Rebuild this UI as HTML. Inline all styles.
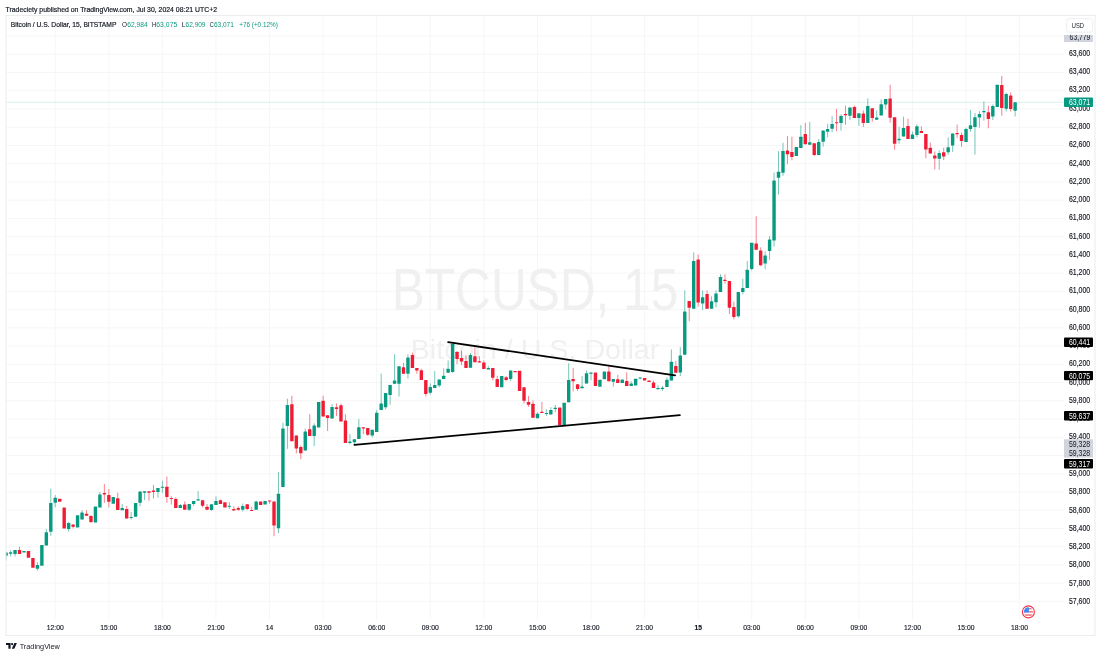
<!DOCTYPE html>
<html><head><meta charset="utf-8"><style>
html,body{margin:0;padding:0;background:#fff;}
body{width:1101px;height:656px;overflow:hidden;}
svg{display:block;font-family:"Liberation Sans",sans-serif;will-change:transform;}
.t text,text.t{stroke-width:0.18px;}
</style></head><body>
<svg width="1101" height="656" viewBox="0 0 1101 656">
<g stroke="#f6f6f7" stroke-width="1"><line x1="55.25" y1="15.5" x2="55.25" y2="619.5"/><line x1="108.83" y1="15.5" x2="108.83" y2="619.5"/><line x1="162.40" y1="15.5" x2="162.40" y2="619.5"/><line x1="215.98" y1="15.5" x2="215.98" y2="619.5"/><line x1="269.55" y1="15.5" x2="269.55" y2="619.5"/><line x1="323.12" y1="15.5" x2="323.12" y2="619.5"/><line x1="376.70" y1="15.5" x2="376.70" y2="619.5"/><line x1="430.28" y1="15.5" x2="430.28" y2="619.5"/><line x1="483.85" y1="15.5" x2="483.85" y2="619.5"/><line x1="537.42" y1="15.5" x2="537.42" y2="619.5"/><line x1="591.00" y1="15.5" x2="591.00" y2="619.5"/><line x1="644.58" y1="15.5" x2="644.58" y2="619.5"/><line x1="698.15" y1="15.5" x2="698.15" y2="619.5"/><line x1="751.73" y1="15.5" x2="751.73" y2="619.5"/><line x1="805.30" y1="15.5" x2="805.30" y2="619.5"/><line x1="858.88" y1="15.5" x2="858.88" y2="619.5"/><line x1="912.45" y1="15.5" x2="912.45" y2="619.5"/><line x1="966.03" y1="15.5" x2="966.03" y2="619.5"/><line x1="1019.60" y1="15.5" x2="1019.60" y2="619.5"/><line x1="6" y1="36.06" x2="1064" y2="36.06"/><line x1="6" y1="54.30" x2="1064" y2="54.30"/><line x1="6" y1="72.54" x2="1064" y2="72.54"/><line x1="6" y1="90.77" x2="1064" y2="90.77"/><line x1="6" y1="109.01" x2="1064" y2="109.01"/><line x1="6" y1="127.25" x2="1064" y2="127.25"/><line x1="6" y1="145.48" x2="1064" y2="145.48"/><line x1="6" y1="163.72" x2="1064" y2="163.72"/><line x1="6" y1="181.96" x2="1064" y2="181.96"/><line x1="6" y1="200.19" x2="1064" y2="200.19"/><line x1="6" y1="218.43" x2="1064" y2="218.43"/><line x1="6" y1="236.67" x2="1064" y2="236.67"/><line x1="6" y1="254.90" x2="1064" y2="254.90"/><line x1="6" y1="273.14" x2="1064" y2="273.14"/><line x1="6" y1="291.38" x2="1064" y2="291.38"/><line x1="6" y1="309.61" x2="1064" y2="309.61"/><line x1="6" y1="327.85" x2="1064" y2="327.85"/><line x1="6" y1="346.09" x2="1064" y2="346.09"/><line x1="6" y1="364.32" x2="1064" y2="364.32"/><line x1="6" y1="382.56" x2="1064" y2="382.56"/><line x1="6" y1="400.80" x2="1064" y2="400.80"/><line x1="6" y1="419.03" x2="1064" y2="419.03"/><line x1="6" y1="437.27" x2="1064" y2="437.27"/><line x1="6" y1="455.51" x2="1064" y2="455.51"/><line x1="6" y1="473.74" x2="1064" y2="473.74"/><line x1="6" y1="491.98" x2="1064" y2="491.98"/><line x1="6" y1="510.22" x2="1064" y2="510.22"/><line x1="6" y1="528.45" x2="1064" y2="528.45"/><line x1="6" y1="546.69" x2="1064" y2="546.69"/><line x1="6" y1="564.93" x2="1064" y2="564.93"/><line x1="6" y1="583.16" x2="1064" y2="583.16"/><line x1="6" y1="601.40" x2="1064" y2="601.40"/></g>
<text x="535" y="310.3" font-size="58.5" fill="#f0f0f1" text-anchor="middle" textLength="286.5" lengthAdjust="spacingAndGlyphs">BTCUSD, 15</text>
<text x="535" y="359" font-size="27.5" fill="#f0f0f1" text-anchor="middle" textLength="248.5" lengthAdjust="spacingAndGlyphs">Bitcoin / U.S. Dollar</text>
<clipPath id="plot"><rect x="5.8" y="16" width="1058.2" height="603.5"/></clipPath><g clip-path="url(#plot)">
<g fill="#089981" fill-opacity="0.55"><rect x="5.64" y="551.60" width="1.0" height="8.90"/><rect x="10.10" y="550.20" width="1.0" height="6.20"/><rect x="14.57" y="550.00" width="1.0" height="6.40"/><rect x="36.89" y="562.20" width="1.0" height="8.30"/><rect x="45.82" y="529.00" width="1.0" height="16.40"/><rect x="50.29" y="488.70" width="1.0" height="47.10"/><rect x="54.75" y="495.10" width="1.0" height="12.20"/><rect x="68.14" y="522.00" width="1.0" height="9.70"/><rect x="81.54" y="510.20" width="1.0" height="9.30"/><rect x="99.40" y="491.90" width="1.0" height="15.70"/><rect x="121.72" y="504.00" width="1.0" height="6.20"/><rect x="130.65" y="512.00" width="1.0" height="7.60"/><rect x="139.58" y="491.40" width="1.0" height="14.80"/><rect x="144.04" y="491.20" width="1.0" height="8.90"/><rect x="157.44" y="488.10" width="1.0" height="9.60"/><rect x="161.90" y="480.70" width="1.0" height="12.20"/><rect x="179.76" y="504.00" width="1.0" height="3.90"/><rect x="188.69" y="504.00" width="1.0" height="7.00"/><rect x="193.15" y="501.10" width="1.0" height="4.80"/><rect x="197.62" y="491.20" width="1.0" height="9.40"/><rect x="211.01" y="504.30" width="1.0" height="6.50"/><rect x="215.48" y="496.30" width="1.0" height="8.70"/><rect x="228.87" y="502.10" width="1.0" height="6.90"/><rect x="242.26" y="503.50" width="1.0" height="8.00"/><rect x="255.66" y="500.70" width="1.0" height="9.00"/><rect x="277.98" y="471.90" width="1.0" height="61.10"/><rect x="282.44" y="422.70" width="1.0" height="64.40"/><rect x="286.91" y="398.70" width="1.0" height="50.10"/><rect x="304.77" y="428.60" width="1.0" height="22.00"/><rect x="313.70" y="423.40" width="1.0" height="22.60"/><rect x="331.56" y="404.20" width="1.0" height="14.40"/><rect x="349.41" y="434.10" width="1.0" height="10.30"/><rect x="353.88" y="439.30" width="1.0" height="5.10"/><rect x="358.34" y="419.00" width="1.0" height="19.90"/><rect x="371.74" y="429.70" width="1.0" height="7.80"/><rect x="376.20" y="410.10" width="1.0" height="21.90"/><rect x="380.67" y="373.70" width="1.0" height="36.40"/><rect x="385.13" y="392.90" width="1.0" height="16.50"/><rect x="389.59" y="385.00" width="1.0" height="19.60"/><rect x="394.06" y="354.20" width="1.0" height="29.50"/><rect x="398.52" y="366.30" width="1.0" height="30.30"/><rect x="407.45" y="354.30" width="1.0" height="24.30"/><rect x="429.78" y="383.40" width="1.0" height="11.20"/><rect x="434.24" y="370.90" width="1.0" height="17.00"/><rect x="438.71" y="379.40" width="1.0" height="7.90"/><rect x="443.17" y="368.40" width="1.0" height="10.60"/><rect x="447.63" y="360.50" width="1.0" height="12.20"/><rect x="452.10" y="343.80" width="1.0" height="28.90"/><rect x="469.96" y="353.00" width="1.0" height="14.70"/><rect x="487.82" y="365.80" width="1.0" height="3.70"/><rect x="510.14" y="370.50" width="1.0" height="10.70"/><rect x="536.93" y="412.30" width="1.0" height="5.90"/><rect x="545.86" y="409.30" width="1.0" height="6.70"/><rect x="550.32" y="407.20" width="1.0" height="7.30"/><rect x="554.79" y="405.00" width="1.0" height="7.30"/><rect x="568.18" y="363.30" width="1.0" height="39.00"/><rect x="581.57" y="376.00" width="1.0" height="12.20"/><rect x="586.04" y="370.40" width="1.0" height="13.20"/><rect x="590.50" y="372.40" width="1.0" height="7.80"/><rect x="612.82" y="379.00" width="1.0" height="7.70"/><rect x="630.68" y="381.30" width="1.0" height="4.60"/><rect x="639.61" y="377.50" width="1.0" height="1.90"/><rect x="657.47" y="385.20" width="1.0" height="4.10"/><rect x="661.94" y="385.90" width="1.0" height="4.80"/><rect x="666.40" y="377.30" width="1.0" height="9.80"/><rect x="670.86" y="349.50" width="1.0" height="31.10"/><rect x="679.79" y="347.10" width="1.0" height="29.00"/><rect x="684.26" y="290.40" width="1.0" height="64.40"/><rect x="693.19" y="252.30" width="1.0" height="56.40"/><rect x="702.12" y="290.40" width="1.0" height="19.80"/><rect x="711.05" y="296.20" width="1.0" height="12.50"/><rect x="715.51" y="290.40" width="1.0" height="17.00"/><rect x="719.98" y="274.30" width="1.0" height="17.70"/><rect x="737.83" y="292.00" width="1.0" height="25.60"/><rect x="742.30" y="278.70" width="1.0" height="15.70"/><rect x="746.76" y="261.00" width="1.0" height="27.10"/><rect x="751.23" y="242.80" width="1.0" height="27.80"/><rect x="764.62" y="251.40" width="1.0" height="17.90"/><rect x="769.09" y="235.90" width="1.0" height="23.80"/><rect x="773.55" y="172.50" width="1.0" height="74.10"/><rect x="778.02" y="151.20" width="1.0" height="43.40"/><rect x="782.48" y="142.80" width="1.0" height="33.10"/><rect x="800.34" y="125.20" width="1.0" height="22.90"/><rect x="809.27" y="121.90" width="1.0" height="22.90"/><rect x="818.20" y="139.00" width="1.0" height="16.00"/><rect x="822.66" y="130.60" width="1.0" height="16.00"/><rect x="827.13" y="123.80" width="1.0" height="13.40"/><rect x="831.59" y="116.10" width="1.0" height="16.10"/><rect x="840.52" y="114.20" width="1.0" height="16.50"/><rect x="849.45" y="107.50" width="1.0" height="12.50"/><rect x="858.38" y="113.30" width="1.0" height="12.60"/><rect x="867.31" y="98.40" width="1.0" height="24.50"/><rect x="876.24" y="110.40" width="1.0" height="9.30"/><rect x="880.70" y="99.40" width="1.0" height="16.00"/><rect x="885.17" y="99.00" width="1.0" height="10.30"/><rect x="898.56" y="126.80" width="1.0" height="16.90"/><rect x="903.02" y="116.60" width="1.0" height="20.00"/><rect x="911.95" y="131.50" width="1.0" height="7.50"/><rect x="916.42" y="124.40" width="1.0" height="12.90"/><rect x="938.74" y="150.40" width="1.0" height="19.20"/><rect x="947.67" y="137.50" width="1.0" height="17.30"/><rect x="952.13" y="133.40" width="1.0" height="18.50"/><rect x="965.53" y="127.70" width="1.0" height="14.30"/><rect x="969.99" y="109.90" width="1.0" height="21.70"/><rect x="974.46" y="113.00" width="1.0" height="41.50"/><rect x="978.92" y="111.10" width="1.0" height="16.60"/><rect x="983.39" y="101.50" width="1.0" height="19.20"/><rect x="992.32" y="104.40" width="1.0" height="15.60"/><rect x="1005.71" y="92.50" width="1.0" height="19.00"/><rect x="1014.64" y="102.30" width="1.0" height="14.20"/></g>
<g fill="#f01c35" fill-opacity="0.55"><rect x="19.03" y="546.80" width="1.0" height="7.10"/><rect x="72.61" y="524.40" width="1.0" height="4.10"/><rect x="86.00" y="510.20" width="1.0" height="5.50"/><rect x="90.47" y="515.20" width="1.0" height="7.80"/><rect x="103.86" y="484.10" width="1.0" height="18.70"/><rect x="108.33" y="489.10" width="1.0" height="18.30"/><rect x="117.25" y="492.70" width="1.0" height="17.30"/><rect x="126.18" y="506.20" width="1.0" height="12.20"/><rect x="148.51" y="491.20" width="1.0" height="9.60"/><rect x="152.97" y="484.90" width="1.0" height="13.70"/><rect x="166.37" y="476.50" width="1.0" height="26.30"/><rect x="170.83" y="496.30" width="1.0" height="8.20"/><rect x="175.29" y="497.40" width="1.0" height="10.50"/><rect x="184.22" y="501.40" width="1.0" height="8.30"/><rect x="202.08" y="500.30" width="1.0" height="7.20"/><rect x="206.55" y="504.00" width="1.0" height="5.70"/><rect x="219.94" y="499.50" width="1.0" height="4.40"/><rect x="233.33" y="506.40" width="1.0" height="4.20"/><rect x="237.80" y="506.40" width="1.0" height="4.40"/><rect x="246.73" y="504.30" width="1.0" height="5.80"/><rect x="251.19" y="506.80" width="1.0" height="4.00"/><rect x="269.05" y="500.60" width="1.0" height="3.00"/><rect x="273.52" y="501.50" width="1.0" height="34.70"/><rect x="291.37" y="395.70" width="1.0" height="45.50"/><rect x="295.84" y="435.50" width="1.0" height="17.80"/><rect x="300.30" y="445.40" width="1.0" height="13.70"/><rect x="309.23" y="414.10" width="1.0" height="21.90"/><rect x="322.63" y="395.70" width="1.0" height="20.80"/><rect x="327.09" y="415.20" width="1.0" height="15.80"/><rect x="336.02" y="403.50" width="1.0" height="12.50"/><rect x="340.48" y="403.60" width="1.0" height="17.90"/><rect x="344.95" y="414.20" width="1.0" height="28.80"/><rect x="362.81" y="427.20" width="1.0" height="6.90"/><rect x="367.27" y="427.90" width="1.0" height="8.20"/><rect x="402.99" y="362.90" width="1.0" height="10.80"/><rect x="411.92" y="352.60" width="1.0" height="15.40"/><rect x="416.38" y="368.00" width="1.0" height="5.70"/><rect x="420.85" y="368.80" width="1.0" height="11.20"/><rect x="425.31" y="380.00" width="1.0" height="16.50"/><rect x="456.56" y="351.70" width="1.0" height="12.40"/><rect x="461.03" y="350.60" width="1.0" height="14.50"/><rect x="465.49" y="355.10" width="1.0" height="13.00"/><rect x="474.42" y="347.50" width="1.0" height="14.70"/><rect x="478.89" y="356.20" width="1.0" height="6.40"/><rect x="483.35" y="360.30" width="1.0" height="8.80"/><rect x="492.28" y="368.10" width="1.0" height="12.40"/><rect x="496.75" y="375.70" width="1.0" height="11.20"/><rect x="505.67" y="376.00" width="1.0" height="5.20"/><rect x="523.53" y="387.30" width="1.0" height="16.20"/><rect x="528.00" y="396.10" width="1.0" height="10.80"/><rect x="532.46" y="400.40" width="1.0" height="17.40"/><rect x="541.39" y="402.00" width="1.0" height="10.90"/><rect x="572.64" y="367.80" width="1.0" height="23.50"/><rect x="577.11" y="384.30" width="1.0" height="6.70"/><rect x="608.36" y="365.30" width="1.0" height="16.00"/><rect x="617.29" y="374.80" width="1.0" height="8.30"/><rect x="626.22" y="372.40" width="1.0" height="13.50"/><rect x="653.01" y="380.50" width="1.0" height="7.50"/><rect x="675.33" y="361.10" width="1.0" height="11.60"/><rect x="688.72" y="300.90" width="1.0" height="20.30"/><rect x="697.65" y="254.50" width="1.0" height="52.10"/><rect x="706.58" y="290.40" width="1.0" height="18.30"/><rect x="724.44" y="274.30" width="1.0" height="9.10"/><rect x="728.90" y="281.00" width="1.0" height="32.90"/><rect x="733.37" y="301.70" width="1.0" height="17.70"/><rect x="755.69" y="216.20" width="1.0" height="33.50"/><rect x="760.16" y="247.30" width="1.0" height="18.80"/><rect x="786.94" y="135.90" width="1.0" height="28.20"/><rect x="791.41" y="136.70" width="1.0" height="23.60"/><rect x="804.80" y="123.00" width="1.0" height="21.30"/><rect x="813.73" y="143.20" width="1.0" height="12.80"/><rect x="836.05" y="108.80" width="1.0" height="22.40"/><rect x="844.98" y="105.60" width="1.0" height="19.20"/><rect x="853.91" y="105.60" width="1.0" height="12.30"/><rect x="862.84" y="110.40" width="1.0" height="16.60"/><rect x="871.77" y="108.30" width="1.0" height="13.30"/><rect x="889.63" y="84.80" width="1.0" height="37.90"/><rect x="894.09" y="117.20" width="1.0" height="32.60"/><rect x="907.49" y="118.70" width="1.0" height="20.30"/><rect x="920.88" y="126.30" width="1.0" height="6.60"/><rect x="925.35" y="134.00" width="1.0" height="24.30"/><rect x="929.81" y="142.50" width="1.0" height="11.00"/><rect x="934.28" y="151.40" width="1.0" height="18.20"/><rect x="943.21" y="147.80" width="1.0" height="12.30"/><rect x="956.60" y="124.50" width="1.0" height="13.40"/><rect x="961.06" y="132.60" width="1.0" height="14.20"/><rect x="987.85" y="105.80" width="1.0" height="22.50"/><rect x="1001.25" y="76.00" width="1.0" height="39.70"/><rect x="1010.17" y="92.50" width="1.0" height="19.00"/></g>
<g fill="#089981"><rect x="4.44" y="552.60" width="3.4" height="3.10" rx="0.5"/><rect x="8.90" y="552.30" width="3.4" height="1.40" rx="0.5"/><rect x="13.37" y="550.00" width="3.4" height="4.00" rx="0.5"/><rect x="22.30" y="550.90" width="3.4" height="1.70" rx="0.5"/><rect x="35.69" y="565.00" width="3.4" height="3.80" rx="0.5"/><rect x="40.16" y="545.00" width="3.4" height="20.70" rx="0.5"/><rect x="44.62" y="532.20" width="3.4" height="13.20" rx="0.5"/><rect x="49.09" y="502.90" width="3.4" height="28.80" rx="0.5"/><rect x="53.55" y="497.80" width="3.4" height="4.90" rx="0.5"/><rect x="66.94" y="523.00" width="3.4" height="6.00" rx="0.5"/><rect x="75.87" y="515.20" width="3.4" height="12.40" rx="0.5"/><rect x="80.34" y="512.50" width="3.4" height="7.00" rx="0.5"/><rect x="93.73" y="506.50" width="3.4" height="16.00" rx="0.5"/><rect x="98.20" y="494.50" width="3.4" height="13.10" rx="0.5"/><rect x="111.59" y="497.10" width="3.4" height="6.70" rx="0.5"/><rect x="120.52" y="507.90" width="3.4" height="2.30" rx="0.5"/><rect x="129.45" y="516.90" width="3.4" height="1.00" rx="0.5"/><rect x="133.91" y="503.00" width="3.4" height="13.80" rx="0.5"/><rect x="138.38" y="491.40" width="3.4" height="11.40" rx="0.5"/><rect x="142.84" y="491.20" width="3.4" height="1.50" rx="0.5"/><rect x="156.24" y="488.10" width="3.4" height="3.80" rx="0.5"/><rect x="160.70" y="486.80" width="3.4" height="1.00" rx="0.5"/><rect x="178.56" y="505.00" width="3.4" height="2.90" rx="0.5"/><rect x="187.49" y="504.00" width="3.4" height="5.70" rx="0.5"/><rect x="191.95" y="501.10" width="3.4" height="2.80" rx="0.5"/><rect x="196.42" y="499.20" width="3.4" height="1.40" rx="0.5"/><rect x="209.81" y="504.30" width="3.4" height="5.80" rx="0.5"/><rect x="214.28" y="501.10" width="3.4" height="3.90" rx="0.5"/><rect x="227.67" y="505.70" width="3.4" height="1.10" rx="0.5"/><rect x="241.06" y="506.10" width="3.4" height="3.60" rx="0.5"/><rect x="254.46" y="501.50" width="3.4" height="8.20" rx="0.5"/><rect x="263.39" y="501.00" width="3.4" height="3.40" rx="0.5"/><rect x="276.78" y="493.70" width="3.4" height="34.50" rx="0.5"/><rect x="281.24" y="428.60" width="3.4" height="58.50" rx="0.5"/><rect x="285.71" y="404.90" width="3.4" height="21.00" rx="0.5"/><rect x="303.57" y="431.60" width="3.4" height="19.00" rx="0.5"/><rect x="312.50" y="425.50" width="3.4" height="10.50" rx="0.5"/><rect x="316.96" y="402.10" width="3.4" height="25.40" rx="0.5"/><rect x="330.36" y="407.00" width="3.4" height="11.60" rx="0.5"/><rect x="348.21" y="441.60" width="3.4" height="1.40" rx="0.5"/><rect x="352.68" y="439.30" width="3.4" height="3.00" rx="0.5"/><rect x="357.14" y="427.20" width="3.4" height="11.70" rx="0.5"/><rect x="370.54" y="429.70" width="3.4" height="5.70" rx="0.5"/><rect x="375.00" y="412.80" width="3.4" height="19.20" rx="0.5"/><rect x="379.47" y="403.60" width="3.4" height="6.50" rx="0.5"/><rect x="383.93" y="392.90" width="3.4" height="14.40" rx="0.5"/><rect x="388.39" y="385.00" width="3.4" height="10.00" rx="0.5"/><rect x="392.86" y="380.40" width="3.4" height="3.30" rx="0.5"/><rect x="397.32" y="366.30" width="3.4" height="17.40" rx="0.5"/><rect x="406.25" y="357.60" width="3.4" height="16.10" rx="0.5"/><rect x="428.58" y="387.10" width="3.4" height="5.70" rx="0.5"/><rect x="433.04" y="385.10" width="3.4" height="2.80" rx="0.5"/><rect x="437.51" y="379.40" width="3.4" height="6.10" rx="0.5"/><rect x="441.97" y="375.70" width="3.4" height="3.30" rx="0.5"/><rect x="446.43" y="368.80" width="3.4" height="3.90" rx="0.5"/><rect x="450.90" y="343.80" width="3.4" height="28.30" rx="0.5"/><rect x="468.76" y="355.10" width="3.4" height="12.60" rx="0.5"/><rect x="486.62" y="368.10" width="3.4" height="1.40" rx="0.5"/><rect x="500.01" y="375.90" width="3.4" height="11.40" rx="0.5"/><rect x="508.94" y="370.50" width="3.4" height="8.60" rx="0.5"/><rect x="535.73" y="413.80" width="3.4" height="4.40" rx="0.5"/><rect x="544.66" y="412.90" width="3.4" height="1.20" rx="0.5"/><rect x="549.12" y="409.90" width="3.4" height="4.60" rx="0.5"/><rect x="553.59" y="407.70" width="3.4" height="1.20" rx="0.5"/><rect x="562.51" y="402.80" width="3.4" height="22.90" rx="0.5"/><rect x="566.98" y="380.00" width="3.4" height="22.30" rx="0.5"/><rect x="580.37" y="386.50" width="3.4" height="1.70" rx="0.5"/><rect x="584.84" y="373.30" width="3.4" height="10.30" rx="0.5"/><rect x="589.30" y="372.40" width="3.4" height="1.30" rx="0.5"/><rect x="598.23" y="379.80" width="3.4" height="6.90" rx="0.5"/><rect x="602.70" y="371.40" width="3.4" height="7.90" rx="0.5"/><rect x="611.62" y="379.00" width="3.4" height="2.70" rx="0.5"/><rect x="620.55" y="379.60" width="3.4" height="3.50" rx="0.5"/><rect x="629.48" y="383.40" width="3.4" height="2.50" rx="0.5"/><rect x="633.95" y="378.80" width="3.4" height="6.70" rx="0.5"/><rect x="638.41" y="377.50" width="3.4" height="1.00" rx="0.5"/><rect x="656.27" y="388.00" width="3.4" height="1.30" rx="0.5"/><rect x="660.74" y="387.70" width="3.4" height="1.20" rx="0.5"/><rect x="665.20" y="379.80" width="3.4" height="7.30" rx="0.5"/><rect x="669.66" y="361.80" width="3.4" height="18.80" rx="0.5"/><rect x="678.59" y="355.40" width="3.4" height="17.10" rx="0.5"/><rect x="683.06" y="311.50" width="3.4" height="43.30" rx="0.5"/><rect x="691.99" y="260.90" width="3.4" height="47.80" rx="0.5"/><rect x="700.92" y="297.20" width="3.4" height="6.30" rx="0.5"/><rect x="709.85" y="301.30" width="3.4" height="7.40" rx="0.5"/><rect x="714.31" y="293.50" width="3.4" height="8.80" rx="0.5"/><rect x="718.78" y="277.00" width="3.4" height="15.00" rx="0.5"/><rect x="736.63" y="292.00" width="3.4" height="24.30" rx="0.5"/><rect x="741.10" y="287.90" width="3.4" height="4.10" rx="0.5"/><rect x="745.56" y="269.70" width="3.4" height="18.40" rx="0.5"/><rect x="750.03" y="242.80" width="3.4" height="26.10" rx="0.5"/><rect x="763.42" y="255.60" width="3.4" height="7.80" rx="0.5"/><rect x="767.89" y="239.50" width="3.4" height="11.50" rx="0.5"/><rect x="772.35" y="180.40" width="3.4" height="60.10" rx="0.5"/><rect x="776.82" y="171.70" width="3.4" height="6.10" rx="0.5"/><rect x="781.28" y="150.90" width="3.4" height="21.90" rx="0.5"/><rect x="794.67" y="146.90" width="3.4" height="9.10" rx="0.5"/><rect x="799.14" y="136.70" width="3.4" height="11.40" rx="0.5"/><rect x="808.07" y="142.30" width="3.4" height="2.50" rx="0.5"/><rect x="817.00" y="142.00" width="3.4" height="13.00" rx="0.5"/><rect x="821.46" y="130.60" width="3.4" height="11.10" rx="0.5"/><rect x="825.93" y="129.10" width="3.4" height="2.60" rx="0.5"/><rect x="830.39" y="124.00" width="3.4" height="4.80" rx="0.5"/><rect x="839.32" y="116.10" width="3.4" height="6.80" rx="0.5"/><rect x="848.25" y="107.50" width="3.4" height="8.30" rx="0.5"/><rect x="857.18" y="113.30" width="3.4" height="4.60" rx="0.5"/><rect x="866.11" y="106.10" width="3.4" height="16.80" rx="0.5"/><rect x="875.04" y="117.40" width="3.4" height="2.30" rx="0.5"/><rect x="879.50" y="104.30" width="3.4" height="11.10" rx="0.5"/><rect x="883.97" y="99.00" width="3.4" height="5.50" rx="0.5"/><rect x="897.36" y="138.80" width="3.4" height="1.40" rx="0.5"/><rect x="901.82" y="128.00" width="3.4" height="8.60" rx="0.5"/><rect x="910.75" y="134.50" width="3.4" height="4.50" rx="0.5"/><rect x="915.22" y="126.30" width="3.4" height="8.60" rx="0.5"/><rect x="937.54" y="153.00" width="3.4" height="5.80" rx="0.5"/><rect x="946.47" y="147.20" width="3.4" height="5.10" rx="0.5"/><rect x="950.93" y="133.40" width="3.4" height="12.20" rx="0.5"/><rect x="964.33" y="129.10" width="3.4" height="12.90" rx="0.5"/><rect x="968.79" y="125.20" width="3.4" height="3.70" rx="0.5"/><rect x="973.26" y="117.20" width="3.4" height="9.80" rx="0.5"/><rect x="977.72" y="113.90" width="3.4" height="3.70" rx="0.5"/><rect x="982.19" y="111.00" width="3.4" height="1.30" rx="0.5"/><rect x="991.12" y="106.10" width="3.4" height="10.30" rx="0.5"/><rect x="995.58" y="84.70" width="3.4" height="22.20" rx="0.5"/><rect x="1004.51" y="94.10" width="3.4" height="14.60" rx="0.5"/><rect x="1013.44" y="102.30" width="3.4" height="8.40" rx="0.5"/></g>
<g fill="#f01c35"><rect x="17.83" y="549.90" width="3.4" height="4.00" rx="0.5"/><rect x="26.76" y="550.90" width="3.4" height="6.90" rx="0.5"/><rect x="31.23" y="558.10" width="3.4" height="9.60" rx="0.5"/><rect x="58.01" y="498.80" width="3.4" height="3.00" rx="0.5"/><rect x="62.48" y="507.40" width="3.4" height="21.10" rx="0.5"/><rect x="71.41" y="524.40" width="3.4" height="2.30" rx="0.5"/><rect x="84.80" y="513.70" width="3.4" height="2.00" rx="0.5"/><rect x="89.27" y="516.10" width="3.4" height="6.00" rx="0.5"/><rect x="102.66" y="493.10" width="3.4" height="1.30" rx="0.5"/><rect x="107.13" y="495.00" width="3.4" height="6.80" rx="0.5"/><rect x="116.05" y="498.20" width="3.4" height="11.80" rx="0.5"/><rect x="124.98" y="508.90" width="3.4" height="9.50" rx="0.5"/><rect x="147.31" y="491.20" width="3.4" height="1.50" rx="0.5"/><rect x="151.77" y="490.60" width="3.4" height="1.30" rx="0.5"/><rect x="165.17" y="486.80" width="3.4" height="10.30" rx="0.5"/><rect x="169.63" y="497.90" width="3.4" height="1.00" rx="0.5"/><rect x="174.09" y="499.00" width="3.4" height="8.90" rx="0.5"/><rect x="183.02" y="504.60" width="3.4" height="5.10" rx="0.5"/><rect x="200.88" y="500.30" width="3.4" height="5.40" rx="0.5"/><rect x="205.35" y="506.80" width="3.4" height="2.90" rx="0.5"/><rect x="218.74" y="500.30" width="3.4" height="3.60" rx="0.5"/><rect x="223.20" y="502.30" width="3.4" height="5.10" rx="0.5"/><rect x="232.13" y="509.00" width="3.4" height="1.60" rx="0.5"/><rect x="236.60" y="508.10" width="3.4" height="1.60" rx="0.5"/><rect x="245.53" y="504.30" width="3.4" height="4.70" rx="0.5"/><rect x="249.99" y="510.00" width="3.4" height="1.00" rx="0.5"/><rect x="258.92" y="501.50" width="3.4" height="3.50" rx="0.5"/><rect x="267.85" y="500.60" width="3.4" height="1.00" rx="0.5"/><rect x="272.32" y="501.50" width="3.4" height="24.00" rx="0.5"/><rect x="290.17" y="404.20" width="3.4" height="37.00" rx="0.5"/><rect x="294.64" y="435.50" width="3.4" height="12.90" rx="0.5"/><rect x="299.10" y="447.00" width="3.4" height="6.30" rx="0.5"/><rect x="308.03" y="429.20" width="3.4" height="6.80" rx="0.5"/><rect x="321.43" y="400.80" width="3.4" height="15.70" rx="0.5"/><rect x="325.89" y="415.20" width="3.4" height="2.70" rx="0.5"/><rect x="334.82" y="407.20" width="3.4" height="1.80" rx="0.5"/><rect x="339.28" y="405.30" width="3.4" height="16.20" rx="0.5"/><rect x="343.75" y="420.40" width="3.4" height="22.60" rx="0.5"/><rect x="361.61" y="427.20" width="3.4" height="1.40" rx="0.5"/><rect x="366.07" y="427.90" width="3.4" height="6.90" rx="0.5"/><rect x="401.79" y="367.20" width="3.4" height="6.50" rx="0.5"/><rect x="410.72" y="355.00" width="3.4" height="13.00" rx="0.5"/><rect x="415.18" y="368.00" width="3.4" height="2.50" rx="0.5"/><rect x="419.65" y="370.20" width="3.4" height="9.80" rx="0.5"/><rect x="424.11" y="380.00" width="3.4" height="14.00" rx="0.5"/><rect x="455.36" y="351.70" width="3.4" height="7.30" rx="0.5"/><rect x="459.83" y="358.00" width="3.4" height="3.40" rx="0.5"/><rect x="464.29" y="360.90" width="3.4" height="7.20" rx="0.5"/><rect x="473.22" y="356.20" width="3.4" height="6.00" rx="0.5"/><rect x="477.69" y="361.30" width="3.4" height="1.30" rx="0.5"/><rect x="482.15" y="362.60" width="3.4" height="6.50" rx="0.5"/><rect x="491.08" y="368.10" width="3.4" height="9.60" rx="0.5"/><rect x="495.55" y="379.10" width="3.4" height="7.80" rx="0.5"/><rect x="504.47" y="377.30" width="3.4" height="2.70" rx="0.5"/><rect x="513.40" y="370.90" width="3.4" height="1.30" rx="0.5"/><rect x="517.87" y="370.70" width="3.4" height="20.20" rx="0.5"/><rect x="522.33" y="387.30" width="3.4" height="13.40" rx="0.5"/><rect x="526.80" y="402.00" width="3.4" height="2.70" rx="0.5"/><rect x="531.26" y="403.80" width="3.4" height="14.00" rx="0.5"/><rect x="540.19" y="411.70" width="3.4" height="1.20" rx="0.5"/><rect x="558.05" y="407.40" width="3.4" height="17.70" rx="0.5"/><rect x="571.44" y="379.10" width="3.4" height="2.10" rx="0.5"/><rect x="575.91" y="384.30" width="3.4" height="4.80" rx="0.5"/><rect x="593.77" y="372.40" width="3.4" height="13.50" rx="0.5"/><rect x="607.16" y="371.40" width="3.4" height="9.90" rx="0.5"/><rect x="616.09" y="379.30" width="3.4" height="3.80" rx="0.5"/><rect x="625.02" y="380.90" width="3.4" height="5.00" rx="0.5"/><rect x="642.88" y="377.90" width="3.4" height="2.70" rx="0.5"/><rect x="647.34" y="380.60" width="3.4" height="1.50" rx="0.5"/><rect x="651.81" y="382.50" width="3.4" height="5.50" rx="0.5"/><rect x="674.13" y="366.00" width="3.4" height="6.70" rx="0.5"/><rect x="687.52" y="300.90" width="3.4" height="6.90" rx="0.5"/><rect x="696.45" y="259.40" width="3.4" height="43.20" rx="0.5"/><rect x="705.38" y="294.00" width="3.4" height="14.70" rx="0.5"/><rect x="723.24" y="279.80" width="3.4" height="1.20" rx="0.5"/><rect x="727.70" y="281.00" width="3.4" height="26.80" rx="0.5"/><rect x="732.17" y="307.00" width="3.4" height="10.00" rx="0.5"/><rect x="754.49" y="243.60" width="3.4" height="6.10" rx="0.5"/><rect x="758.96" y="250.50" width="3.4" height="14.70" rx="0.5"/><rect x="785.74" y="150.40" width="3.4" height="3.80" rx="0.5"/><rect x="790.21" y="151.90" width="3.4" height="5.10" rx="0.5"/><rect x="803.60" y="134.10" width="3.4" height="10.20" rx="0.5"/><rect x="812.53" y="143.20" width="3.4" height="11.80" rx="0.5"/><rect x="834.85" y="122.20" width="3.4" height="1.00" rx="0.5"/><rect x="843.78" y="113.90" width="3.4" height="1.30" rx="0.5"/><rect x="852.71" y="106.90" width="3.4" height="11.00" rx="0.5"/><rect x="861.64" y="113.60" width="3.4" height="9.30" rx="0.5"/><rect x="870.57" y="108.30" width="3.4" height="9.60" rx="0.5"/><rect x="888.43" y="98.40" width="3.4" height="19.30" rx="0.5"/><rect x="892.89" y="117.20" width="3.4" height="26.50" rx="0.5"/><rect x="906.29" y="126.00" width="3.4" height="13.00" rx="0.5"/><rect x="919.68" y="130.90" width="3.4" height="2.00" rx="0.5"/><rect x="924.15" y="134.00" width="3.4" height="15.50" rx="0.5"/><rect x="928.61" y="147.80" width="3.4" height="5.70" rx="0.5"/><rect x="933.08" y="155.60" width="3.4" height="2.80" rx="0.5"/><rect x="942.01" y="152.20" width="3.4" height="4.30" rx="0.5"/><rect x="955.40" y="133.00" width="3.4" height="1.30" rx="0.5"/><rect x="959.86" y="135.00" width="3.4" height="6.10" rx="0.5"/><rect x="986.65" y="112.30" width="3.4" height="6.70" rx="0.5"/><rect x="1000.05" y="85.10" width="3.4" height="23.00" rx="0.5"/><rect x="1008.97" y="95.60" width="3.4" height="13.40" rx="0.5"/></g>
<line x1="6" y1="102.3" x2="1064" y2="102.3" stroke="#089981" stroke-opacity="0.15" stroke-width="1"/>
</g>
<line x1="354.4" y1="444.8" x2="679.9" y2="415.2" stroke="#000" stroke-width="1.75" stroke-linecap="round"/>
<line x1="448.1" y1="342.2" x2="675.1" y2="375.4" stroke="#000" stroke-width="1.75" stroke-linecap="round"/>
<rect x="6" y="15.5" width="1089" height="620" fill="none" stroke="#eaecf0" stroke-width="1"/>
<g font-size="8.5" fill="#131722" stroke="#131722" stroke-width="0.15"><text x="1090.2" y="55.95" text-anchor="end" textLength="21.3" lengthAdjust="spacingAndGlyphs">63,600</text><text x="1090.2" y="74.21" text-anchor="end" textLength="21.3" lengthAdjust="spacingAndGlyphs">63,400</text><text x="1090.2" y="92.48" text-anchor="end" textLength="21.3" lengthAdjust="spacingAndGlyphs">63,200</text><text x="1090.2" y="110.74" text-anchor="end" textLength="21.3" lengthAdjust="spacingAndGlyphs">63,000</text><text x="1090.2" y="129.00" text-anchor="end" textLength="21.3" lengthAdjust="spacingAndGlyphs">62,800</text><text x="1090.2" y="147.26" text-anchor="end" textLength="21.3" lengthAdjust="spacingAndGlyphs">62,600</text><text x="1090.2" y="165.53" text-anchor="end" textLength="21.3" lengthAdjust="spacingAndGlyphs">62,400</text><text x="1090.2" y="183.79" text-anchor="end" textLength="21.3" lengthAdjust="spacingAndGlyphs">62,200</text><text x="1090.2" y="202.05" text-anchor="end" textLength="21.3" lengthAdjust="spacingAndGlyphs">62,000</text><text x="1090.2" y="220.32" text-anchor="end" textLength="21.3" lengthAdjust="spacingAndGlyphs">61,800</text><text x="1090.2" y="238.58" text-anchor="end" textLength="21.3" lengthAdjust="spacingAndGlyphs">61,600</text><text x="1090.2" y="256.84" text-anchor="end" textLength="21.3" lengthAdjust="spacingAndGlyphs">61,400</text><text x="1090.2" y="275.11" text-anchor="end" textLength="21.3" lengthAdjust="spacingAndGlyphs">61,200</text><text x="1090.2" y="293.37" text-anchor="end" textLength="21.3" lengthAdjust="spacingAndGlyphs">61,000</text><text x="1090.2" y="311.63" text-anchor="end" textLength="21.3" lengthAdjust="spacingAndGlyphs">60,800</text><text x="1090.2" y="329.89" text-anchor="end" textLength="21.3" lengthAdjust="spacingAndGlyphs">60,600</text><text x="1090.2" y="348.16" text-anchor="end" textLength="21.3" lengthAdjust="spacingAndGlyphs">60,400</text><text x="1090.2" y="366.42" text-anchor="end" textLength="21.3" lengthAdjust="spacingAndGlyphs">60,200</text><text x="1090.2" y="384.68" text-anchor="end" textLength="21.3" lengthAdjust="spacingAndGlyphs">60,000</text><text x="1090.2" y="402.95" text-anchor="end" textLength="21.3" lengthAdjust="spacingAndGlyphs">59,800</text><text x="1090.2" y="421.21" text-anchor="end" textLength="21.3" lengthAdjust="spacingAndGlyphs">59,600</text><text x="1090.2" y="439.47" text-anchor="end" textLength="21.3" lengthAdjust="spacingAndGlyphs">59,400</text><text x="1090.2" y="476.00" text-anchor="end" textLength="21.3" lengthAdjust="spacingAndGlyphs">59,000</text><text x="1090.2" y="494.26" text-anchor="end" textLength="21.3" lengthAdjust="spacingAndGlyphs">58,800</text><text x="1090.2" y="512.52" text-anchor="end" textLength="21.3" lengthAdjust="spacingAndGlyphs">58,600</text><text x="1090.2" y="530.79" text-anchor="end" textLength="21.3" lengthAdjust="spacingAndGlyphs">58,400</text><text x="1090.2" y="549.05" text-anchor="end" textLength="21.3" lengthAdjust="spacingAndGlyphs">58,200</text><text x="1090.2" y="567.31" text-anchor="end" textLength="21.3" lengthAdjust="spacingAndGlyphs">58,000</text><text x="1090.2" y="585.58" text-anchor="end" textLength="21.3" lengthAdjust="spacingAndGlyphs">57,800</text><text x="1090.2" y="603.84" text-anchor="end" textLength="21.3" lengthAdjust="spacingAndGlyphs">57,600</text></g>
<clipPath id="c779"><rect x="1064" y="34.9" width="29" height="7.1"/></clipPath><rect x="1064" y="34.9" width="29" height="7.1" fill="#d1d4dc"/><text clip-path="url(#c779)" x="1090.4" y="40" text-anchor="end" font-size="8.5" fill="#131722" textLength="20.8" lengthAdjust="spacingAndGlyphs">63,779</text>
<rect x="1064" y="97.50" width="29" height="9.4" rx="1" fill="#089981"/><text x="1090.2" y="105.10" text-anchor="end" font-size="8.5" fill="#ffffff" textLength="21.3" lengthAdjust="spacingAndGlyphs">63,071</text>
<rect x="1064" y="337.60" width="29" height="9.4" rx="1" fill="#000000"/><text x="1090.2" y="345.20" text-anchor="end" font-size="8.5" fill="#ffffff" textLength="21.3" lengthAdjust="spacingAndGlyphs">60,441</text>
<rect x="1064" y="370.90" width="29" height="9.4" rx="1" fill="#000000"/><text x="1090.2" y="378.50" text-anchor="end" font-size="8.5" fill="#ffffff" textLength="21.3" lengthAdjust="spacingAndGlyphs">60,075</text>
<rect x="1064" y="411.00" width="29" height="9.4" rx="1" fill="#000000"/><text x="1090.2" y="418.60" text-anchor="end" font-size="8.5" fill="#ffffff" textLength="21.3" lengthAdjust="spacingAndGlyphs">59,637</text>
<rect x="1064" y="439.3" width="29" height="18.3" fill="#d1d4dc"/>
<text x="1090.2" y="446.5" text-anchor="end" font-size="8.5" fill="#131722" textLength="21.3" lengthAdjust="spacingAndGlyphs">59,328</text>
<text x="1090.2" y="456.3" text-anchor="end" font-size="8.5" fill="#131722" textLength="21.3" lengthAdjust="spacingAndGlyphs">59,328</text>
<rect x="1064" y="459.10" width="29" height="9.4" rx="1" fill="#000000"/><text x="1090.2" y="466.70" text-anchor="end" font-size="8.5" fill="#ffffff" textLength="21.3" lengthAdjust="spacingAndGlyphs">59,317</text>
<rect x="1066.7" y="18.7" width="26" height="13.5" rx="2.5" fill="#fff" stroke="#eceef2" stroke-width="1"/>
<text x="1071.8" y="28" font-size="8.1" fill="#131722" textLength="12.2" lengthAdjust="spacingAndGlyphs">USD</text>
<g font-size="7.4" fill="#131722" stroke="#131722" stroke-width="0.15"><text x="55.25" y="630.2" text-anchor="middle" textLength="17" lengthAdjust="spacingAndGlyphs">12:00</text><text x="108.83" y="630.2" text-anchor="middle" textLength="17" lengthAdjust="spacingAndGlyphs">15:00</text><text x="162.40" y="630.2" text-anchor="middle" textLength="17" lengthAdjust="spacingAndGlyphs">18:00</text><text x="215.98" y="630.2" text-anchor="middle" textLength="17" lengthAdjust="spacingAndGlyphs">21:00</text><text x="269.55" y="630.2" text-anchor="middle" textLength="7.5" lengthAdjust="spacingAndGlyphs">14</text><text x="323.12" y="630.2" text-anchor="middle" textLength="17" lengthAdjust="spacingAndGlyphs">03:00</text><text x="376.70" y="630.2" text-anchor="middle" textLength="17" lengthAdjust="spacingAndGlyphs">06:00</text><text x="430.28" y="630.2" text-anchor="middle" textLength="17" lengthAdjust="spacingAndGlyphs">09:00</text><text x="483.85" y="630.2" text-anchor="middle" textLength="17" lengthAdjust="spacingAndGlyphs">12:00</text><text x="537.42" y="630.2" text-anchor="middle" textLength="17" lengthAdjust="spacingAndGlyphs">15:00</text><text x="591.00" y="630.2" text-anchor="middle" textLength="17" lengthAdjust="spacingAndGlyphs">18:00</text><text x="644.58" y="630.2" text-anchor="middle" textLength="17" lengthAdjust="spacingAndGlyphs">21:00</text><text x="698.15" y="630.2" text-anchor="middle" font-weight="bold" textLength="7.5" lengthAdjust="spacingAndGlyphs">15</text><text x="751.73" y="630.2" text-anchor="middle" textLength="17" lengthAdjust="spacingAndGlyphs">03:00</text><text x="805.30" y="630.2" text-anchor="middle" textLength="17" lengthAdjust="spacingAndGlyphs">06:00</text><text x="858.88" y="630.2" text-anchor="middle" textLength="17" lengthAdjust="spacingAndGlyphs">09:00</text><text x="912.45" y="630.2" text-anchor="middle" textLength="17" lengthAdjust="spacingAndGlyphs">12:00</text><text x="966.03" y="630.2" text-anchor="middle" textLength="17" lengthAdjust="spacingAndGlyphs">15:00</text><text x="1019.60" y="630.2" text-anchor="middle" textLength="17" lengthAdjust="spacingAndGlyphs">18:00</text></g>
<g transform="translate(1028.4,611.9)">
<circle r="6" fill="#fff" stroke="#f23645" stroke-width="1.1"/>
<clipPath id="fc"><circle r="4.6"/></clipPath>
<g clip-path="url(#fc)">
<rect x="-5" y="-5" width="10" height="10" fill="#fff"/>
<rect x="-5" y="-3.6" width="10" height="1" fill="#f23645"/>
<rect x="-5" y="-0.6" width="10" height="1.1" fill="#f23645"/>
<rect x="-5" y="2.6" width="10" height="1.1" fill="#f23645"/>
<rect x="-5" y="-5" width="5.5" height="5.5" fill="#3d8bfd"/>
</g></g>
<text x="5.5" y="11.7" font-size="7.4" fill="#131722" stroke="#131722" stroke-width="0.2" textLength="211.5" lengthAdjust="spacingAndGlyphs">Tradeciety published on TradingView.com, Jul 30, 2024 08:21 UTC+2</text>
<text x="10.8" y="27.4" font-size="7.6" fill="#131722" stroke="#131722" stroke-width="0.2" textLength="105.6" lengthAdjust="spacingAndGlyphs">Bitcoin / U.S. Dollar, 15, BITSTAMP</text>
<text x="122.0" y="27.4" font-size="7.6" fill="#131722" textLength="5.0" lengthAdjust="spacingAndGlyphs">O</text>
<text x="127.2" y="27.4" font-size="7.6" fill="#089981" textLength="20.5" lengthAdjust="spacingAndGlyphs">62,984</text>
<text x="151.9" y="27.4" font-size="7.6" fill="#131722" textLength="4.2" lengthAdjust="spacingAndGlyphs">H</text>
<text x="156.3" y="27.4" font-size="7.6" fill="#089981" textLength="21.0" lengthAdjust="spacingAndGlyphs">63,075</text>
<text x="181.7" y="27.4" font-size="7.6" fill="#131722" textLength="3.7" lengthAdjust="spacingAndGlyphs">L</text>
<text x="185.6" y="27.4" font-size="7.6" fill="#089981" textLength="19.9" lengthAdjust="spacingAndGlyphs">62,909</text>
<text x="209.7" y="27.4" font-size="7.6" fill="#131722" textLength="4.0" lengthAdjust="spacingAndGlyphs">C</text>
<text x="213.9" y="27.4" font-size="7.6" fill="#089981" textLength="19.9" lengthAdjust="spacingAndGlyphs">63,071</text>
<text x="239.2" y="27.4" font-size="7.6" fill="#089981" textLength="38.6" lengthAdjust="spacingAndGlyphs">+76 (+0.12%)</text>
<g fill="#131722">
<path d="M6 643 H10.6 V648.7 H8.4 V645.1 H6 Z"/>
<circle cx="12.1" cy="644.1" r="1.1"/>
<path d="M14.4 643 H16.9 L14.3 648.7 H11.8 Z"/>
</g>
<text x="19.7" y="648.7" font-size="7.8" fill="#131722" textLength="40.1" lengthAdjust="spacingAndGlyphs">TradingView</text>
</svg></body></html>
